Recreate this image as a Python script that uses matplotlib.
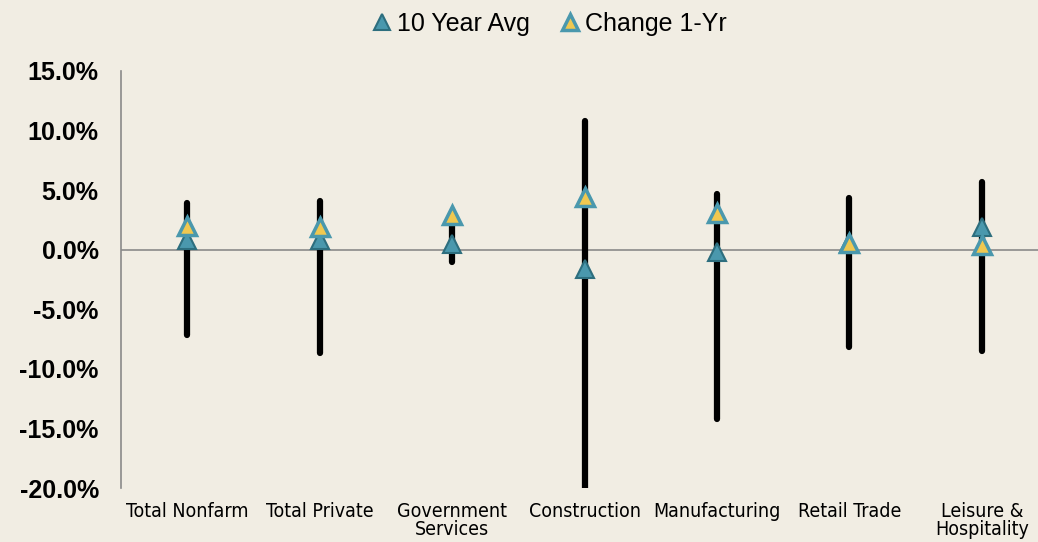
import matplotlib.pyplot as plt
import numpy as np
from matplotlib.ticker import FuncFormatter

categorias = ['Total Nonfarm', 'Total Private', 'Government\nServices', 'Construction',
              'Manufacturing', 'Retail Trade', 'Leisure &\nHospitality']
maximo = [3.9, 4.1, 2.5, 10.8, 4.7, 4.3, 5.7]
minimo = [-7.2, -8.7, -1.0, -21.0, -14.2, -8.2, -8.5]
media_10_anos = [0.8, 0.8, 0.5, -1.6, -0.2, 0.6, 1.9]
variacao_1_ano = [2.0, 1.9, 2.9, 4.4, 3.1, 0.6, 0.4]

fundo = '#f1ede3'
azul = '#4a98ad'
borda = '#2d6e7e'
amarelo = '#f0c850'

fig = plt.figure(figsize=(10.38, 5.42), dpi=100, facecolor=fundo)
ax = fig.add_axes([121 / 1038, 1 - 488 / 542, 927 / 1038, 417 / 542])
ax.set_facecolor(fundo)

x = np.arange(len(categorias))
ax.vlines(x, minimo, maximo, color='black', linewidth=4.5, capstyle='round', zorder=2)
ax.axhline(0, color='#8a8a8a', linewidth=1.2, zorder=1)

ax.plot(x, media_10_anos, linestyle='none', marker='^', markersize=13,
        markerfacecolor=azul, markeredgecolor=borda, markeredgewidth=1.5,
        label='10 Year Avg', zorder=3)
ax.plot(x, variacao_1_ano, linestyle='none', marker='^', markersize=13,
        markerfacecolor=amarelo, markeredgecolor=azul, markeredgewidth=2.5,
        label='Change 1-Yr', zorder=4)

ax.set_xlim(-0.5, len(categorias) - 0.5)
ax.set_ylim(-20, 15)
ax.set_yticks(np.arange(-20, 16, 5))
ax.yaxis.set_major_formatter(FuncFormatter(lambda v, p: f'{v:.1f}%'))
ax.tick_params(axis='y', length=0, pad=16, labelsize=18)
for t in ax.get_yticklabels():
    t.set_fontfamily('Liberation Sans')
    t.set_fontweight('bold')

ax.set_xticks(x)
ax.set_xticklabels(categorias, fontsize=14, family='DejaVu Sans', stretch='condensed',
                   linespacing=0.95)
ax.tick_params(axis='x', length=0, pad=10)

for lado in ['top', 'right', 'bottom']:
    ax.spines[lado].set_visible(False)
ax.spines['left'].set_color('#8a8a8a')
ax.spines['left'].set_linewidth(1.2)

fig.legend(loc='upper center', bbox_to_anchor=(0.527, 1.02), ncol=2, frameon=False,
           prop={'family': 'Liberation Sans', 'size': 18}, handletextpad=0.0,
           columnspacing=1.0, markerscale=0.9, handlelength=1.2)

fig.savefig('out.png', dpi=100, facecolor=fundo)
